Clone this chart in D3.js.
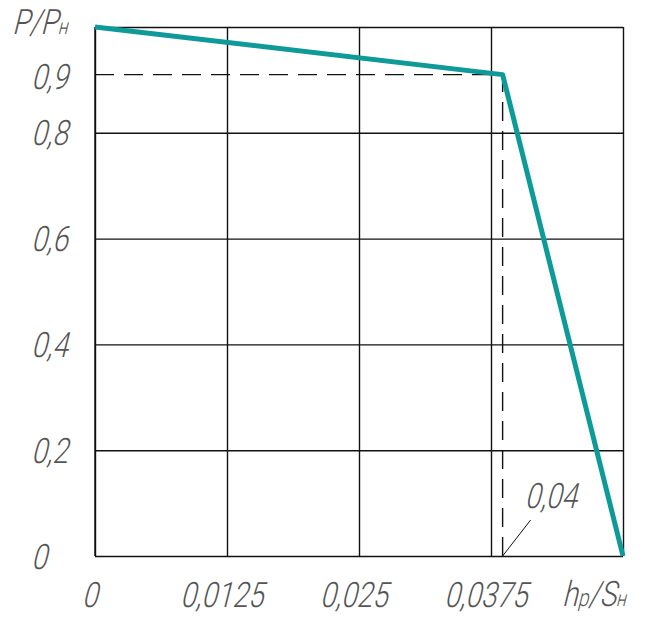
<!DOCTYPE html>
<html>
<head>
<meta charset="utf-8">
<script src="https://cdn.jsdelivr.net/npm/d3@7"></script>
<style>
  body { margin: 0; background: #fff; }
  .lbl { font-family: Roboto, "DejaVu Sans", sans-serif; font-weight: 300; fill: #555; }
</style>
</head>
<body>
<svg class="chart"></svg>
<script>
// values
var xTicks = [0, 0.0125, 0.025, 0.0375, 0.05];
var xTickLabels = ["0", "0,0125", "0,025", "0,0375", ""];
var yTicks = [0, 0.2, 0.4, 0.6, 0.8, 1];
var yTickLabels = ["0", "0,2", "0,4", "0,6", "0,8", ""];
var curveX = [0, 0.0386, 0.05];
var curveY = [1, 0.91, 0];
var kneeLabel = "0,9";
var kneeXLabel = "0,04";

var width = 646, height = 618;
var margin = { top: 27, right: 23, bottom: 62, left: 95 };
var w = width - margin.left - margin.right;
var h = height - margin.top - margin.bottom;
var fs = 35;

var svg = d3.select(".chart")
    .attr("width", width)
    .attr("height", height);

var g = svg.append("g")
    .attr("transform", "translate(" + margin.left + "," + margin.top + ")");

var x = d3.scaleLinear().domain([0, 0.05]).range([0, w]);
var y = d3.scaleLinear().domain([0, 1]).range([h, 0]);

// narrow slanted drafting-style text
function slant(tx, ty) {
    return "translate(" + tx + "," + ty + ") skewX(-14) scale(0.8,1)";
}

var xAxis = g.append("g")
    .attr("transform", "translate(0," + h + ")")
    .call(d3.axisBottom(x).tickValues(xTicks).tickSize(-h)
        .tickFormat(function(d, i) { return xTickLabels[i]; }));

var yAxis = g.append("g")
    .call(d3.axisLeft(y).tickValues(yTicks).tickSize(-w)
        .tickFormat(function(d, i) { return yTickLabels[i]; }));

g.selectAll(".domain").remove();
g.selectAll(".tick line").attr("stroke", "#111").attr("stroke-width", 1.4);

xAxis.selectAll(".tick text")
    .attr("class", "lbl")
    .attr("font-size", fs)
    .attr("text-anchor", "middle")
    .attr("x", 0).attr("y", 0).attr("dy", null)
    .attr("transform", slant(-6, 51));

yAxis.selectAll(".tick text")
    .attr("class", "lbl")
    .attr("font-size", fs)
    .attr("text-anchor", "start")
    .attr("x", 0).attr("y", 0).attr("dy", null)
    .attr("transform", slant(31 - margin.left, 12));

// left border
g.append("line").attr("x1", 0).attr("x2", 0).attr("y1", 0).attr("y2", h)
    .attr("stroke", "#111").attr("stroke-width", 1.4);

// dashed guides to the knee
var kx = x(curveX[1]), ky = y(curveY[1]);
g.append("path")
    .attr("d", "M0," + ky + "H" + kx + "V" + h)
    .attr("fill", "none")
    .attr("stroke", "#111")
    .attr("stroke-width", 1.4)
    .attr("stroke-dasharray", "19,10");

g.append("text")
    .attr("class", "lbl")
    .attr("font-size", fs)
    .attr("transform", slant(31 - margin.left, ky + 14))
    .text(kneeLabel);

// leader to 0,04
g.append("line")
    .attr("x1", kx).attr("y1", h)
    .attr("x2", kx + 28).attr("y2", h - 36)
    .attr("stroke", "#111").attr("stroke-width", 1);

g.append("text")
    .attr("class", "lbl")
    .attr("font-size", fs)
    .attr("transform", slant(kx + 22, h - 48))
    .text(kneeXLabel);

// curve
var pts = curveX.map(function(d, i) { return [d, curveY[i]]; });
g.append("path")
    .datum(pts)
    .attr("fill", "none")
    .attr("stroke", "#0e9a98")
    .attr("stroke-width", 5)
    .attr("stroke-linejoin", "round")
    .attr("d", d3.line()
        .x(function(d) { return x(d[0]); })
        .y(function(d) { return y(d[1]); }));

// axis titles
var yTitle = svg.append("text").attr("class", "lbl").attr("font-size", fs)
    .attr("transform", slant(12, 34));
yTitle.append("tspan").text("P/P");
yTitle.append("tspan").attr("font-size", 22).text("н");

var xTitle = svg.append("text").attr("class", "lbl").attr("font-size", fs)
    .attr("transform", slant(562, 606));
xTitle.append("tspan").text("h");
xTitle.append("tspan").attr("font-size", 24).text("p");
xTitle.append("tspan").text("/S");
xTitle.append("tspan").attr("font-size", 22).text("н");
</script>
</body>
</html>
